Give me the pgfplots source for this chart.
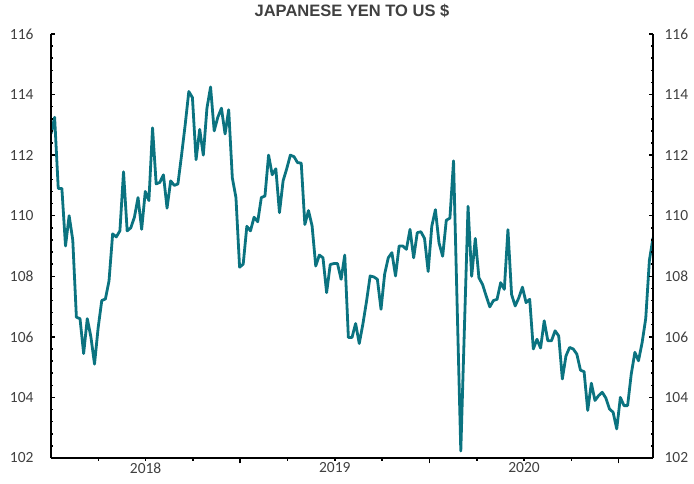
\documentclass[border=0pt]{standalone}
\usepackage{pgfplots}
\pgfplotsset{compat=1.18}
\usepackage{pgfplotstable}
\usepackage{fontspec}
\setmainfont{Carlito}
\newfontfamily\titlefont{Liberation Sans}
\definecolor{yenline}{HTML}{0B7380}
\definecolor{txt}{HTML}{404040}

% weekly closes, week 0 = first week of 2018
\pgfplotstableread{
k v
0 112.7
1 113.25
2 110.9
3 110.9
4 109.0
5 110.0
6 109.2
7 106.65
8 106.6
9 105.45
10 106.6
11 106.0
12 105.1
13 106.3
14 107.2
15 107.25
16 107.85
17 109.4
18 109.3
19 109.5
20 111.45
21 109.5
22 109.6
23 109.95
24 110.6
25 109.55
26 110.8
27 110.5
28 112.9
29 111.05
30 111.1
31 111.35
32 110.25
33 111.15
34 111.0
35 111.05
36 112.0
37 113.0
38 114.1
39 113.9
40 111.85
41 112.85
42 112.0
43 113.55
44 114.25
45 112.8
46 113.25
47 113.55
48 112.7
49 113.5
50 111.25
51 110.6
52 108.3
53 108.4
54 109.65
55 109.5
56 109.95
57 109.8
58 110.6
59 110.65
60 112.0
61 111.35
62 111.55
63 110.1
64 111.15
65 111.55
66 112.0
67 111.95
68 111.75
69 111.74
70 109.71
71 110.17
72 109.66
73 108.34
74 108.7
75 108.61
76 107.46
77 108.39
78 108.42
79 108.42
80 107.9
81 108.7
82 105.98
83 105.98
84 106.44
85 105.78
86 106.42
87 107.17
88 108.01
89 107.98
90 107.9
91 106.91
92 108.07
93 108.61
94 108.78
95 108.01
96 109.0
97 109.0
98 108.89
99 109.55
100 108.61
101 109.44
102 109.47
103 109.25
104 108.16
105 109.65
106 110.2
107 109.1
108 108.66
109 109.85
110 109.92
111 111.81
112 107.0
113 102.23
114 106.3
115 110.31
116 108.0
117 109.25
118 107.95
119 107.73
120 107.35
121 106.99
122 107.2
123 107.24
124 107.79
125 107.57
126 109.54
127 107.4
128 107.02
129 107.29
130 107.64
131 107.13
132 107.24
133 105.6
134 105.92
135 105.63
136 106.53
137 105.87
138 105.87
139 106.2
140 106.03
141 104.61
142 105.37
143 105.65
144 105.6
145 105.43
146 104.9
147 104.85
148 103.57
149 104.47
150 103.9
151 104.06
152 104.17
153 103.98
154 103.62
155 103.51
156 102.96
157 104.0
158 103.73
159 103.73
160 104.77
161 105.49
162 105.21
163 105.81
164 106.61
165 108.52
166 109.27
}\yendata

\pgfplotsset{
  base/.style={
    at={(0,0)}, anchor=south west, scale only axis,
    width=602pt, height=424pt,
    xmin=0, xmax=166, ymin=102, ymax=116,
    axis line style={-, line width=1.5pt, black},
    tick style={line width=1.5pt, black},
    ticklabel style={font=\fontsize{15.5}{18}\selectfont, text=txt},
    /pgf/number format/assume math mode=true,
  },
  yside/.style={base, axis x line=none,
    ytick={102,104,...,116}, minor y tick num=4,
    tick align=inside, major tick length=4pt, minor tick length=2.2pt},
  xside/.style={base, axis y line=none, axis x line*=bottom, tick align=outside},
}

\begin{document}
\begin{tikzpicture}
\begin{axis}[xside,
  xtick={26.09,78.27,130.45}, xticklabels={2018,2019,2020},
  major tick length=0pt,
  minor xtick={13.045,26.09,39.135,65.225,78.27,91.315,117.405,130.45,143.495},
  minor tick length=3pt,
  xticklabel style={yshift=-1pt},
  title={\titlefont\bfseries JAPANESE YEN TO US \$},
  title style={at={(0.5,1)}, anchor=center, yshift=17pt,
    font=\fontsize{16.5}{19}\selectfont, text=txt},
]
\addplot[draw=yenline, line width=2.8pt, line join=round, mark=none]
  table[x=k, y=v] {\yendata};
\end{axis}
\begin{axis}[xside, xtick={52.18,104.36,156.54}, xticklabels={},
  major tick length=5.5pt]
\end{axis}
\begin{axis}[yside, axis y line*=left,
  yticklabel style={xshift=-14pt}]
\end{axis}
\begin{axis}[yside, axis y line*=right,
  yticklabel style={xshift=8pt}]
\end{axis}
\pgfresetboundingbox
\path[use as bounding box] (-51pt,-26pt) rectangle (643pt,458pt);
\end{tikzpicture}
\end{document}
